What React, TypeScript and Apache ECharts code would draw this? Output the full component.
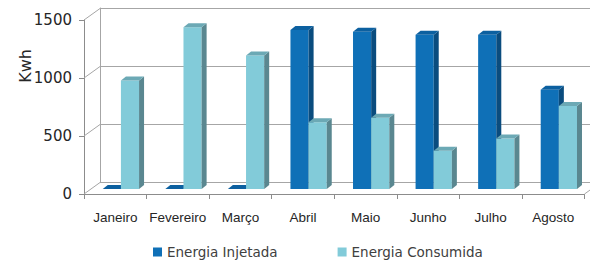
import React, { useEffect, useRef } from "react";
import * as echarts from "echarts";

const months = ["Janeiro", "Fevereiro", "Março", "Abril", "Maio", "Junho", "Julho", "Agosto"];
const injetada = [0, 0, 0, 1370, 1355, 1330, 1330, 855];
const consumida = [935, 1395, 1150, 575, 615, 330, 435, 715];
const yTicks = [0, 500, 1000, 1500];

const DEPTH_X = 16;
const DEPTH_Y = -11.5;

function barRenderer(x0: number, x1: number, front: string, top: string, side: string) {
  return (params: any, api: any) => {
    const i = api.value(0);
    const v = api.value(1);
    const a = api.coord([i + x0, 0]);
    const b = api.coord([i + x1, v]);
    const dy = -5;
    const L = a[0], R = b[0];
    const B = a[1] + dy, T = b[1] + dy;
    const dx2 = 5, dy2 = 4;
    return {
      type: "group",
      children: [
        { type: "rect", shape: { x: L, y: T, width: R - L, height: Math.max(B - T, 0) }, style: { fill: front } },
        {
          type: "polygon",
          shape: { points: [[R, T], [R + dx2, T - dy2], [R + dx2, B - dy2], [R, B]] },
          style: { fill: side },
        },
        {
          type: "polygon",
          shape: { points: [[L, T], [R, T], [R + dx2, T - dy2], [L + dx2, T - dy2]] },
          style: { fill: top },
        },
      ],
    };
  };
}

export default function App() {
  const ref = useRef<HTMLDivElement>(null);
  useEffect(() => {
    const chart = echarts.init(ref.current!, undefined, { renderer: "svg" });
    const axisGray = "#8C8C8C";
    const gridGray = "#A6A6A6";
    chart.setOption({
      animation: false,
      backgroundColor: "#ffffff",
      grid: [
        { left: 84, right: 5.5, top: 20, bottom: 68 },
        { left: 100, right: 0, top: 8, bottom: 79.5 },
      ],
      legend: {
        left: 148,
        top: 240,
        itemWidth: 9,
        itemHeight: 9,
        itemGap: 60,
        icon: "rect",
        textStyle: { fontFamily: "DejaVu Sans", fontSize: 13.5, color: "#404040" },
        data: ["Energia Injetada", "Energia Consumida"],
      },
      graphic: [
        {
          type: "text",
          x: 25,
          y: 66,
          rotation: Math.PI / 2,
          style: {
            text: "Kwh",
            fontFamily: "DejaVu Sans",
            fontSize: 16,
            fill: "#262626",
            align: "center",
            verticalAlign: "middle",
          },
        },
      ],
      xAxis: [
        {
          type: "category",
          gridIndex: 0,
          data: months,
          boundaryGap: true,
          axisLine: { lineStyle: { color: axisGray } },
          axisTick: { show: true, length: 5, lineStyle: { color: axisGray } },
          axisLabel: {
            interval: 0,
            margin: 16,
            fontFamily: "Liberation Sans",
            fontSize: 13.5,
            color: "#262626",
          },
        },
        { type: "value", gridIndex: 0, min: 0, max: 8, show: false },
        { type: "value", gridIndex: 1, min: 0, max: 8, show: false },
      ],
      yAxis: [
        {
          type: "value",
          gridIndex: 0,
          min: 0,
          max: 1500,
          interval: 500,
          axisLine: { show: true, lineStyle: { color: axisGray } },
          axisTick: { show: true, length: 5, lineStyle: { color: axisGray } },
          axisLabel: {
            margin: 12,
            fontFamily: "DejaVu Sans",
            fontSize: 15,
            color: "#262626",
            formatter: (v: number) => String(v),
          },
          splitLine: { show: false },
        },
        {
          type: "value",
          gridIndex: 1,
          min: 0,
          max: 1500,
          interval: 500,
          axisLine: { show: true, lineStyle: { color: gridGray } },
          axisTick: { show: false },
          axisLabel: { show: false },
          splitLine: { show: true, lineStyle: { color: gridGray } },
        },
      ],
      series: [
        {
          type: "custom",
          name: "walls",
          xAxisIndex: 1,
          yAxisIndex: 0,
          silent: true,
          data: [...yTicks.map((t) => [0, t]), [8, 0]],
          renderItem: (params: any, api: any) => {
            const p = api.coord([api.value(0), api.value(1)]);
            return {
              type: "line",
              shape: { x1: p[0], y1: p[1], x2: p[0] + DEPTH_X, y2: p[1] + DEPTH_Y },
              style: { stroke: gridGray, lineWidth: 1 },
            };
          },
        },
        {
          type: "custom",
          name: "Energia Injetada",
          xAxisIndex: 1,
          yAxisIndex: 0,
          itemStyle: { color: "#0F70B7" },
          data: injetada.map((v, i) => [i, v]),
          renderItem: barRenderer(0.3, 0.59, "#0F70B7", "#0C60A0", "#0A4C7E"),
        },
        {
          type: "custom",
          name: "Energia Consumida",
          xAxisIndex: 1,
          yAxisIndex: 0,
          itemStyle: { color: "#82CBD9" },
          data: consumida.map((v, i) => [i, v]),
          renderItem: barRenderer(0.59, 0.88, "#82CBD9", "#6CA9B5", "#5A8790"),
        },
      ],
    });
    return () => chart.dispose();
  }, []);
  return <div ref={ref} style={{ width: 590, height: 262, position: "absolute", left: 0, top: 0 }} />;
}
